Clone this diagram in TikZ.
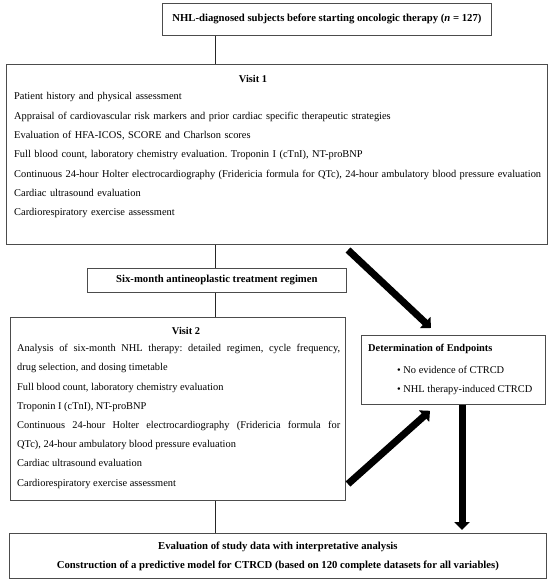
\documentclass[tikz,border=0pt]{standalone}
\usepackage{fontspec}
\setmainfont{Liberation Serif}
\usetikzlibrary{arrows.meta,calc}
\frenchspacing
\begin{document}
\frenchspacing
\begin{tikzpicture}[x=1pt,y=-1pt,
  box/.style={draw=black!70, line width=0.8pt, inner sep=0pt, anchor=north west},
  txt/.style={inner sep=0pt, font=\fontsize{10.4}{19.3}\selectfont},
  btxt/.style={inner sep=0pt, font=\bfseries\fontsize{10.4}{19}\selectfont},
  bbig/.style={inner sep=0pt, font=\bfseries\fontsize{10.7}{19}\selectfont},
  link/.style={draw=black!85, line width=0.8pt},
  fat/.style={line width=7pt, -{Triangle[width=15pt,length=8pt]}}]
\useasboundingbox (0,0) rectangle (550,583);

% boxes
\node[box, minimum width=329pt, minimum height=32pt, bbig] (top) at (162,3)
  {NHL-diagnosed subjects before starting oncologic therapy (\textit{n} = 127)};
\node[box, minimum width=541pt, minimum height=180pt] (v1) at (6,64) {};
\node[box, minimum width=259pt, minimum height=24pt, bbig] (six) at (87,268)
  {Six-month antineoplastic treatment regimen};
\node[box, minimum width=335pt, minimum height=183pt] (v2) at (10,317) {};
\node[box, minimum width=184pt, minimum height=69pt] (ep) at (361,335) {};
\node[box, minimum width=537pt, minimum height=45pt, bbig, align=center] (fin) at (9,533)
  {Evaluation of study data with interpretative analysis\\
   Construction of a predictive model for CTRCD (based on 120 complete datasets for all variables)};

% Visit 1 text
\node[btxt] (v1title) at (253,79) {Visit 1};
\node[txt, anchor=north west, text width=532pt, align=left] (v1lines) at (14,92.4)
  {Patient history and physical assessment\\
   Appraisal of cardiovascular risk markers and prior cardiac specific therapeutic strategies\\
   Evaluation of HFA-ICOS, SCORE and Charlson scores\\
   Full blood count, laboratory chemistry evaluation. Troponin I (cTnI), NT-proBNP\\
   Continuous 24-hour Holter electrocardiography (Fridericia formula for QTc), 24-hour ambulatory blood pressure evaluation\\
   Cardiac ultrasound evaluation\\
   Cardiorespiratory exercise assessment};

% Visit 2 text
\node[btxt] (v2title) at (186,331) {Visit 2};
\node[inner sep=0pt, anchor=north west, text width=323pt, align=justify, font=\fontsize{10.4}{19.2}\selectfont] (v2lines) at (17,344.2)
  {\parindent=0pt\frenchspacing
   Analysis of six-month NHL therapy: detailed regimen, cycle frequency,\linebreak
   drug selection, and dosing timetable\par
   Full blood count, laboratory chemistry evaluation\par
   Troponin I (cTnI), NT-proBNP\par
   Continuous 24-hour Holter electrocardiography (Fridericia formula for\linebreak
   QTc), 24-hour ambulatory blood pressure evaluation\par
   Cardiac ultrasound evaluation\par
   Cardiorespiratory exercise assessment\par};

% Endpoints text
\node[btxt, anchor=base west] (eptitle) at (368,351.5) {Determination of Endpoints};
\node[txt, anchor=north west, align=left, font=\fontsize{10.4}{19}\selectfont] (epitems) at (397,366.2)
  {• No evidence of CTRCD\\• NHL therapy-induced CTRCD};

% thin connectors
\coordinate (cx) at (215,0);
\draw[link] (cx |- top.south) -- (cx |- v1.north);
\draw[link] (cx |- v1.south) -- (cx |- six.north);
\draw[link] (cx |- six.south) -- (cx |- v2.north);
\draw[link] (cx |- v2.south) -- (cx |- fin.north);

% thick arrows
\coordinate (a1s) at (348,250);
\coordinate (a2s) at (348,484);
\coordinate (a3x) at (462,0);
\draw[fat] (a1s) -- ($(ep.north west)+(70,-7)$);
\draw[fat] (a2s) -- ($(ep.south west)+(69,6)$);
\draw[fat] (a3x |- ep.south) -- ($(a3x |- fin.north)+(0,-3)$);
\end{tikzpicture}
\end{document}
